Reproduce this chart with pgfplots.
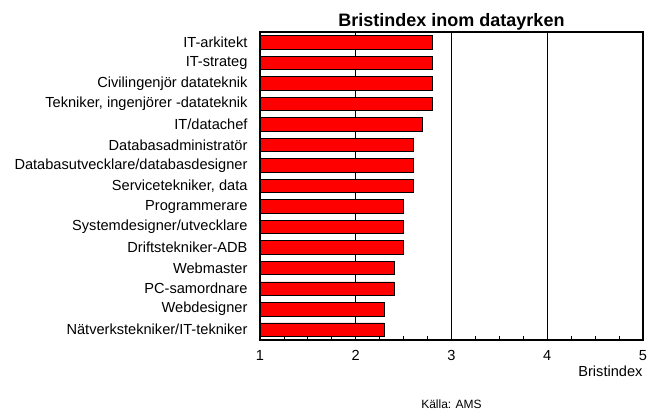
\documentclass[border=0pt]{standalone}
\usepackage{fontspec}
\setmainfont{Liberation Sans}
\usepackage{pgfplots}
\pgfplotsset{compat=1.18}
\begin{document}
\begin{tikzpicture}[x=1pt,y=1pt]
\useasboundingbox (0,0) rectangle (648,412);
\begin{axis}[
  at={(260pt,72pt)}, anchor=south west,
  scale only axis, width=383pt, height=308pt,
  xbar, bar width=13.5pt,
  xmin=1, xmax=5, ymin=0.5, ymax=15.5,
  y dir=reverse,
  ytick={1,...,15},
  yticklabels={IT-arkitekt,IT-strateg,Civilingenjör datateknik,{Tekniker, ingenjörer -datateknik},IT/datachef,Databasadministratör,Databasutvecklare/databasdesigner,{Servicetekniker, data},Programmerare,Systemdesigner/utvecklare,Driftstekniker-ADB,Webmaster,PC-samordnare,Webdesigner,Nätverkstekniker/IT-tekniker},
  ytick style={draw=none},
  yticklabel style={font=\fontsize{14.6}{16}\selectfont, xshift=-9pt},
  xtick={1,2,3,4,5},
  minor x tick num=3,
  xtick pos=bottom,
  tick align=inside,
  major tick length=4pt, minor tick length=4pt,
  x tick style={black, line width=0.8pt},
  xmajorgrids, major grid style={black, line width=0.8pt},
  xticklabel style={font=\fontsize{14.6}{16}\selectfont, yshift=-7pt},
  /pgf/number format/assume math mode=true,
  axis line style={line width=1.8pt},
  title={\bfseries Bristindex inom datayrken},
  title style={font=\fontsize{18}{20}\selectfont, at={(axis description cs:0.5,1)}, anchor=base, yshift=-1pt},
  xlabel={Bristindex},
  xlabel style={font=\fontsize{14.6}{16}\selectfont, at={(axis description cs:1,0)}, anchor=north east, yshift=-22pt, xshift=3pt},
  clip=false,
]
\addplot[fill=red, draw=black, line width=0.8pt] coordinates {
(2.8,1) (2.8,2) (2.8,3) (2.8,4) (2.7,5) (2.6,6) (2.6,7) (2.6,8)
(2.5,9) (2.5,10) (2.5,11) (2.4,12) (2.4,13) (2.3,14) (2.3,15)};
\node[font=\fontsize{12}{14}\selectfont] at (axis description cs:0.5,-0.21) {Källa: AMS};
\end{axis}
\end{tikzpicture}
\end{document}
